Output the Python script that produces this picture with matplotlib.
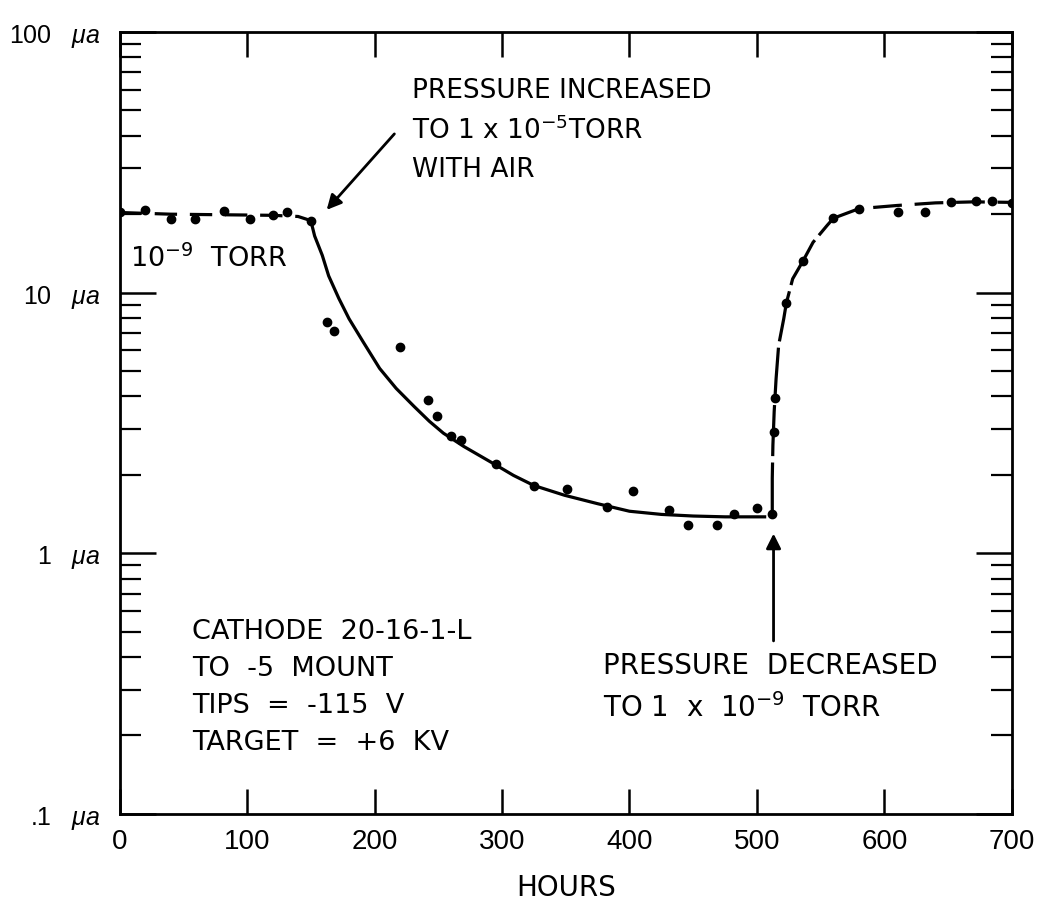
import numpy as np
import matplotlib
matplotlib.use('Agg')
import matplotlib.pyplot as plt
from matplotlib.ticker import LogLocator, NullFormatter, FixedLocator

# measured points (hours, microamps)
hours_pts = [0, 20, 40, 59, 82, 102, 120, 131, 150, 163, 168, 220, 242, 249, 260, 268,
             295, 325, 351, 382, 403, 431, 446, 469, 482, 500, 512, 513, 514, 523, 536,
             560, 580, 611, 632, 652, 672, 684, 700]
current_pts = [20.4, 20.8, 19.2, 19.1, 20.6, 19.1, 19.8, 20.4, 18.9, 7.74, 7.14, 6.2, 3.89,
               3.35, 2.83, 2.71, 2.21, 1.82, 1.76, 1.51, 1.74, 1.46, 1.28, 1.28, 1.42, 1.49,
               1.41, 2.93, 3.96, 9.1, 13.2, 19.3, 21.0, 20.3, 20.4, 22.3, 22.4, 22.5, 22.0]

# hand drawn curves
flat_h = [0, 40, 80, 120, 140, 150]
flat_i = [20.3, 20.0, 19.9, 19.8, 19.6, 18.9]

decay_h = [150, 153, 159, 164, 172, 180, 191, 204, 217, 231, 243, 254, 270, 296, 309, 325,
           349, 375, 400, 425, 450, 475, 506]
decay_i = [18.9, 16.5, 13.9, 11.6, 9.5, 7.94, 6.48, 5.12, 4.29, 3.66, 3.21, 2.89, 2.57, 2.17,
           1.99, 1.82, 1.67, 1.55, 1.45, 1.41, 1.39, 1.38, 1.38]

rise_h = [512, 512, 512.5, 513.5, 515, 517, 521, 523, 528, 536, 544, 555, 560]
rise_i = [1.42, 1.94, 2.6, 3.5, 4.68, 6.28, 7.94, 9.1, 11.3, 13.2, 15.6, 18.1, 19.3]

plateau_h = [560, 580, 610, 640, 670, 700]
plateau_i = [19.3, 21.0, 21.6, 22.1, 22.3, 22.2]

x_ticks = [0, 100, 200, 300, 400, 500, 600, 700]
y_ticks = [0.1, 1, 10, 100]
y_labels = [r'.1   $\mu a$', r'1   $\mu a$', r'10   $\mu a$', r'100   $\mu a$']

plt.rcParams['font.family'] = ['DejaVu Sans']
plt.rcParams['mathtext.fontset'] = 'custom'
plt.rcParams['mathtext.rm'] = 'DejaVu Sans'
plt.rcParams['mathtext.it'] = 'Liberation Sans:italic'

fig = plt.figure(figsize=(10.4, 9.04), dpi=100)
ax = fig.add_axes([0.115, 0.0985, 0.858, 0.865])

lw = 2.3
ax.plot(flat_h, flat_i, color='black', lw=lw, dashes=(7, 4))
ax.plot(decay_h, decay_i, color='black', lw=lw)
ax.plot(rise_h, rise_i, color='black', lw=lw, dashes=(16, 2))
ax.plot(plateau_h, plateau_i, color='black', lw=lw, dashes=(9, 4))
ax.plot(hours_pts, current_pts, 'o', color='black', ms=6)

ax.set_yscale('log')
ax.set_xlim(0, 700)
ax.set_ylim(0.1, 100)

ax.xaxis.set_major_locator(FixedLocator(x_ticks))
ax.set_xticklabels([str(t) for t in x_ticks], fontfamily='Liberation Sans', fontsize=20)
ax.yaxis.set_major_locator(FixedLocator(y_ticks))
ax.set_yticklabels(y_labels, fontfamily='Liberation Sans', fontsize=18)
ax.yaxis.set_minor_locator(LogLocator(base=10, subs=np.arange(2, 10)))
ax.yaxis.set_minor_formatter(NullFormatter())

ax.tick_params(axis='x', which='major', direction='in', length=18, width=1.8,
               top=True, pad=10)
ax.tick_params(axis='y', which='major', direction='in', length=26, width=1.8,
               right=True, pad=14)
ax.tick_params(axis='y', which='minor', direction='in', length=15, width=1.6, right=True)
for s in ax.spines.values():
    s.set_linewidth(2)

ax.set_xlabel('HOURS', fontsize=20, labelpad=14)

ax.text(8, 13.6, r'10$^{-9}$  TORR', fontsize=19.5, va='center', ha='left')
ax.text(229, 42.1, 'PRESSURE INCREASED\nTO 1 x 10$^{-5}$TORR\nWITH AIR', fontsize=19,
        va='center', ha='left', linespacing=1.6)
ax.annotate('', xy=(161, 20.4), xytext=(217, 41.4),
            arrowprops=dict(arrowstyle='-|>', color='black', lw=2, mutation_scale=22))
ax.text(379, 0.309, 'PRESSURE  DECREASED\nTO 1  x  10$^{-9}$  TORR', fontsize=20,
        va='center', ha='left', linespacing=1.6)
ax.annotate('', xy=(513, 1.22), xytext=(513, 0.45),
            arrowprops=dict(arrowstyle='-|>', color='black', lw=2, mutation_scale=22))
ax.text(57, 0.309, 'CATHODE  20-16-1-L\nTO  -5  MOUNT\nTIPS  =  -115  V\nTARGET  =  +6  KV',
        fontsize=19.5, va='center', ha='left', linespacing=1.55)

fig.savefig('out.png', dpi=100)
